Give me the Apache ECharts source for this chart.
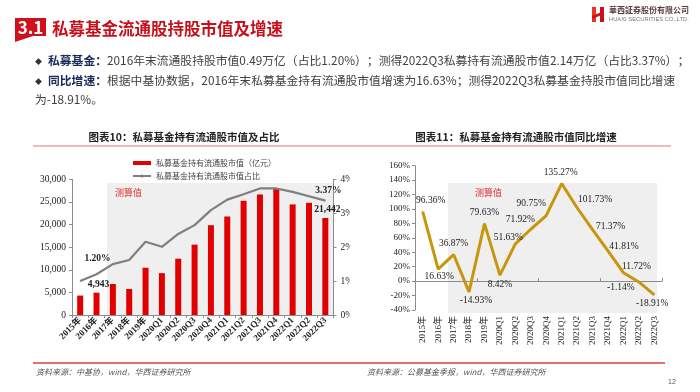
<!DOCTYPE html>
<html><head><meta charset="utf-8">
<script src="https://cdn.jsdelivr.net/npm/echarts@6/dist/echarts.min.js"></script>
<style>html,body{margin:0;padding:0;background:#fff;}#c{width:700px;height:392px;}</style>
</head><body><div id="c"></div>
<script>
// ---- data ----
const categories = ['2015年','2016年','2017年','2018年','2019年','2020Q1','2020Q2','2020Q3','2020Q4','2021Q1','2021Q2','2021Q3','2021Q4','2022Q1','2022Q2','2022Q3'];
const marketValue = [4300,4943,6850,5750,10450,9250,12450,15550,19850,21780,25250,26650,28050,24450,24800,21442];
const marketShare = [1.00,1.20,1.50,1.62,2.16,2.01,2.39,2.65,3.09,3.40,3.56,3.73,3.73,3.63,3.50,3.37];
const yoyGrowth = [96.36,16.63,36.87,-14.93,79.63,8.42,51.63,71.92,90.75,135.27,101.73,71.37,41.81,11.72,-1.14,-18.91];
const valueTicks = [0,5000,10000,15000,20000,25000,30000];
const shareTicks = [0,1,2,3,4];
const growthTicks = [-40,-20,0,20,40,60,80,100,120,140,160];
const valueLabelIdx = [1,15];
const shareLabelIdx = [1,15];

// ---- styling helpers (label placement, not data) ----
const yoyLabelOffsets = [[8,-11],[1,7],[0,-11],[7,9],[0,-11.5],[0,9.5],[-7,-6],[-10.5,-9.5],[-15,-12.5],[-1,-11.5],[18,-8],[18,-3],[16,-4.5],[13,-6],[-18,6],[-2,8.5]];

const SERIF = '"Liberation Serif","Times New Roman",serif';
const CJK = '"Noto Sans CJK SC","Microsoft YaHei",sans-serif';
const axisGray = '#8c8c8c';

const chart = echarts.init(document.getElementById('c'), null, {renderer:'canvas'});

const barData = marketValue.map((v,i)=>({
  value:v,
  label: valueLabelIdx.includes(i) ? {show:true, position:'top', distance:3, offset:[2,0]} : {show:false}
}));
const shareData = marketShare.map((v,i)=>({
  value:v,
  label: shareLabelIdx.includes(i) ? {show:true, position:'inside', offset: i===1?[1,-16]:[3,-10.5], formatter: p=>p.value.toFixed(2)+'%'} : {show:false}
}));
const yoyData = yoyGrowth.map((v,i)=>({
  value:v,
  label:{show:true, position:'inside', offset:yoyLabelOffsets[i]}
}));

const option = {
  animation:false,
  backgroundColor:'#fff',
  legend:{
    orient:'vertical', left:127, top:154, itemWidth:18, itemHeight:4, itemGap:5,
    textStyle:{fontFamily:CJK, fontSize:8, color:'#444'},
    data:[{name:'私募基金持有流通股市值（亿元）', icon:'rect'},{name:'私募基金持有流通股市值占比'}]
  },
  grid:[
    {left:72, right:366.5, top:179.3, bottom:77, containLabel:false},
    {left:415, right:38, top:165.7, bottom:82, containLabel:false}
  ],
  xAxis:[
    {gridIndex:0, type:'category', data:categories, boundaryGap:true,
      axisLine:{lineStyle:{color:axisGray}}, axisTick:{show:true, length:3, lineStyle:{color:axisGray}},
      axisLabel:{rotate:45, margin:4, interval:0, fontFamily:SERIF+','+CJK, fontWeight:'bold', fontSize:9, color:'#222'}},
    {gridIndex:1, type:'category', data:categories, boundaryGap:true, position:'bottom',
      axisLine:{show:false, onZero:false}, axisTick:{show:false},
      axisLabel:{rotate:90, margin:6, interval:0, fontFamily:SERIF+','+CJK, fontSize:9, color:'#222'}},
    {gridIndex:1, type:'category', data:categories, boundaryGap:true, position:'top',
      axisLine:{show:true, onZero:true, lineStyle:{color:axisGray}}, axisTick:{show:true, length:3, lineStyle:{color:axisGray}},
      axisLabel:{show:false}}
  ],
  yAxis:[
    {gridIndex:0, type:'value', min:valueTicks[0], max:valueTicks[valueTicks.length-1], interval:valueTicks[1]-valueTicks[0],
      axisLine:{show:true, lineStyle:{color:axisGray}}, axisTick:{show:true, length:3, lineStyle:{color:axisGray}}, splitLine:{show:false},
      axisLabel:{margin:6, fontFamily:SERIF, fontSize:9.5, color:'#222', formatter:v=>v.toLocaleString('en-US')}},
    {gridIndex:0, type:'value', position:'right', min:shareTicks[0], max:shareTicks[shareTicks.length-1], interval:1,
      axisLine:{show:true, lineStyle:{color:axisGray}}, axisTick:{show:true, length:3, lineStyle:{color:axisGray}}, splitLine:{show:false},
      axisLabel:{margin:7, fontFamily:SERIF, fontSize:9.5, color:'#222', formatter:'{value}%'}},
    {gridIndex:1, type:'value', min:growthTicks[0], max:growthTicks[growthTicks.length-1], interval:growthTicks[1]-growthTicks[0],
      axisLine:{show:true, lineStyle:{color:axisGray}}, axisTick:{show:true, length:3, lineStyle:{color:axisGray}}, splitLine:{show:false},
      axisLabel:{margin:5, fontFamily:SERIF, fontSize:9, color:'#222', formatter:'{value}%'}}
  ],
  series:[
    {name:'私募基金持有流通股市值（亿元）', type:'bar', xAxisIndex:0, yAxisIndex:0, data:barData, barWidth:6,
      itemStyle:{color:'#e00000'}, z:3,
      label:{fontFamily:SERIF, fontWeight:'bold', fontSize:9.5, color:'#222', formatter:p=>p.value.toLocaleString('en-US')}},
    {name:'私募基金持有流通股市值占比', type:'line', xAxisIndex:0, yAxisIndex:1, data:shareData,
      symbol:'circle', symbolSize:1, lineStyle:{color:'#7f7f7f', width:2.2}, itemStyle:{color:'#7f7f7f'}, z:4,
      label:{fontFamily:SERIF, fontWeight:'bold', fontSize:9.5, color:'#222'}},
    {name:'同比增速', type:'line', xAxisIndex:1, yAxisIndex:2, data:yoyData,
      symbol:'circle', symbolSize:1, lineStyle:{color:'#c8960c', width:3}, itemStyle:{color:'#c8960c'}, z:4,
      label:{fontFamily:SERIF, fontSize:9.5, color:'#222', formatter:p=>p.value.toFixed(2)+'%'}}
  ],
  graphic:[
    // shaded estimate regions
    {type:'rect', shape:{x:107, y:183, width:226, height:132}, style:{fill:'#efefef'}, z:-10, silent:true},
    {type:'rect', shape:{x:448, y:183, width:209, height:130}, style:{fill:'#efefef'}, z:-10, silent:true},
    {type:'text', x:115, y:193, style:{text:'测算值', font:'9px '+CJK, fill:'#e03030', verticalAlign:'middle'}, z:10},
    {type:'text', x:475, y:193, style:{text:'测算值', font:'9px '+CJK, fill:'#e03030', verticalAlign:'middle'}, z:10},
    // clip of left chart right axis labels
    {type:'rect', shape:{x:350, y:168, width:30, height:155}, style:{fill:'#fff'}, z:100, silent:true},
    // header
    {type:'polygon', shape:{points:[[15,18],[46,18],[46,36],[33,36],[15,42]]}, style:{fill:'#d0101a'}, z:10},
    {type:'text', x:30.5, y:28, style:{text:'3.1', font:'bold 17px '+CJK, fill:'#fff', align:'center', verticalAlign:'middle'}, z:11},
    {type:'text', x:52, y:29, style:{text:'私募基金流通股持股市值及增速', font:'bold 16.5px '+CJK, fill:'#c8101a', verticalAlign:'middle'}, z:10},
    // logo
    {type:'rect', shape:{x:592, y:7, width:4, height:15}, style:{fill:'#e8381c'}, z:10},
    {type:'rect', shape:{x:600, y:7, width:4, height:15}, style:{fill:'#c8101a'}, z:10},
    {type:'polygon', shape:{points:[[592,16],[604,11],[604,14],[592,19]]}, style:{fill:'#d0101a'}, z:10},
    {type:'text', x:609, y:10, style:{text:'華西証券股份有限公司', font:'bold 8px '+CJK, fill:'#5a3a3a', verticalAlign:'middle'}, z:10},
    {type:'text', x:609, y:19, style:{text:'HUAXI SECURITIES CO.,LTD.', font:'5.8px "Liberation Sans",sans-serif', fill:'#777', verticalAlign:'middle'}, z:10},
    // bullets
    {type:'text', x:35, y:61, style:{text:'◆', font:'7px '+CJK, fill:'#333', verticalAlign:'middle'}, z:10},
    {type:'text', x:35, y:81, style:{text:'◆', font:'7px '+CJK, fill:'#333', verticalAlign:'middle'}, z:10},
    {type:'text', x:48, y:61, style:{text:'{k|私募基金：}{n|2016年末流通股持股市值0.49万亿（占比1.20%）；测得2022Q3私募持有流通股市值2.14万亿（占比3.37%）；}',
      verticalAlign:'middle', rich:{k:{fontFamily:CJK, fontSize:11.8, fontWeight:'bold', fill:'#1c2a5c'}, n:{fontFamily:CJK, fontSize:11.8, fill:'#404040'}}}, z:10},
    {type:'text', x:48, y:81, style:{text:'{k|同比增速：}{n|根据中基协数据，2016年末私募基金持有流通股市值增速为16.63%；测得2022Q3私募基金持股市值同比增速}',
      verticalAlign:'middle', rich:{k:{fontFamily:CJK, fontSize:11.8, fontWeight:'bold', fill:'#1c2a5c'}, n:{fontFamily:CJK, fontSize:11.8, fill:'#404040'}}}, z:10},
    {type:'text', x:35, y:100, style:{text:'为-18.91%。', font:'11.8px '+CJK, fill:'#404040', verticalAlign:'middle'}, z:10},
    // chart titles
    {type:'text', x:184, y:137, style:{text:'图表10：私募基金持有流通股市值及占比', font:'bold 10.5px '+CJK, fill:'#222', align:'center', verticalAlign:'middle'}, z:10},
    {type:'text', x:516, y:137, style:{text:'图表11：私募基金持有流通股市值同比增速', font:'bold 10.5px '+CJK, fill:'#222', align:'center', verticalAlign:'middle'}, z:10},
    {type:'line', shape:{x1:33, y1:146, x2:350, y2:146}, style:{stroke:'#e07070', lineWidth:1}, z:10},
    {type:'line', shape:{x1:350, y1:146, x2:671, y2:146}, style:{stroke:'#e07070', lineWidth:1}, z:10},
    {type:'line', shape:{x1:33, y1:363, x2:350, y2:363}, style:{stroke:'#d84040', lineWidth:1.3}, z:10},
    {type:'line', shape:{x1:350, y1:363, x2:665, y2:363}, style:{stroke:'#d84040', lineWidth:1.3}, z:10},
    // sources
    {type:'text', x:36, y:372, style:{text:'资料来源：中基协，wind，华西证券研究所', font:'italic 8px '+CJK, fill:'#555', verticalAlign:'middle'}, z:10},
    {type:'text', x:367, y:372, style:{text:'资料来源：公募基金季报，wind，华西证券研究所', font:'italic 8px '+CJK, fill:'#555', verticalAlign:'middle'}, z:10},
    {type:'text', x:668, y:382, style:{text:'12', font:'7px "Liberation Sans",sans-serif', fill:'#555', verticalAlign:'middle'}, z:10}
  ]
};
chart.setOption(option);
</script></body></html>
